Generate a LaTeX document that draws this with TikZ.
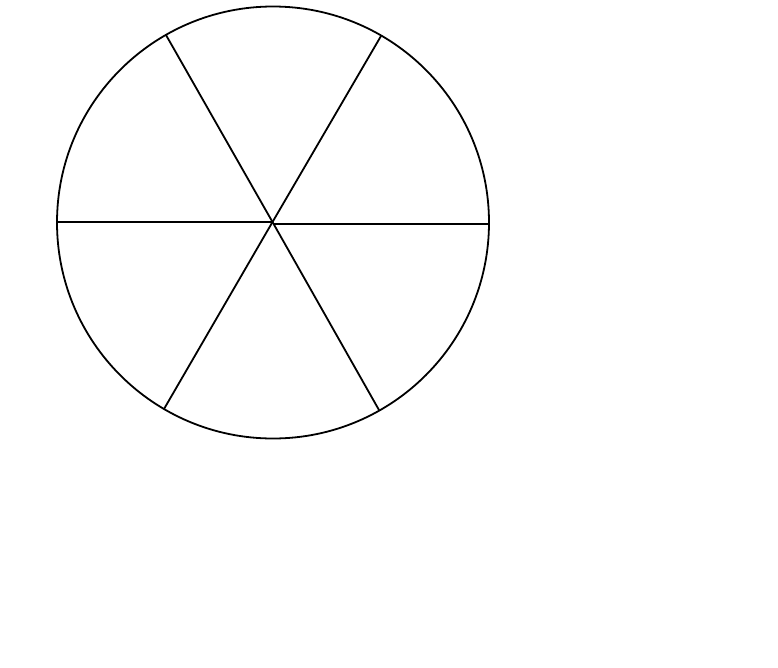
\documentclass[tikz,border=0pt]{standalone}
\begin{document}
\begin{tikzpicture}[x=1pt,y=-1pt,spoke/.style={line width=1.8pt,black}]
\useasboundingbox (0,0) rectangle (778,667);
\coordinate (o) at (273,222.5);
\coordinate (c) at (272.5,222);
\coordinate (cr) at (273,224);
\draw[spoke] (o) circle[radius=216];
\coordinate (e1) at (489,224);
\coordinate (e2) at (381,36);
\coordinate (e3) at (166,35);
\coordinate (e4) at (57,222);
\coordinate (e5) at (164,409);
\coordinate (e6) at (379,410);
\foreach \e in {e2,e3,e4,e5,e6} \draw[spoke] (c) -- (\e);
\draw[spoke] (cr) -- (e1);
\end{tikzpicture}
\end{document}
